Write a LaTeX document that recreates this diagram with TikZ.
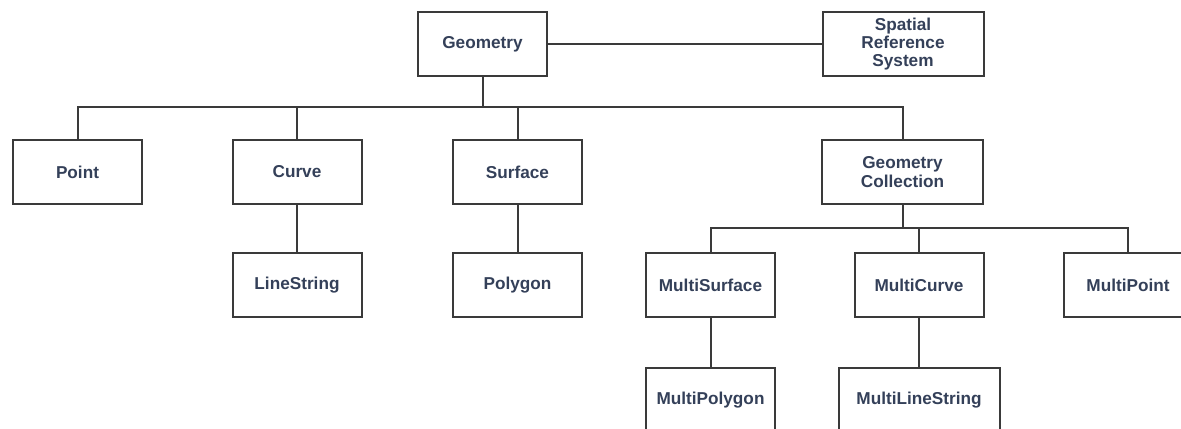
\documentclass[tikz,border=0pt]{standalone}
\usepackage{fontspec}
\setmainfont{Liberation Sans}
\usepackage{tikz}
\definecolor{boxtext}{HTML}{344059}
\definecolor{boxline}{HTML}{3A3A3A}
\tikzset{
  cls/.style={draw=boxline, line width=1pt, minimum width=64.5pt, minimum height=32pt,
    inner sep=0pt, outer sep=0pt, align=center, text=boxtext,
    font=\fontsize{8.6}{9.2}\selectfont\bfseries},
  wide/.style={cls, minimum width=80.5pt},
  link/.style={draw=boxline, line width=1pt}
}
\begin{document}
\begin{tikzpicture}[x=0.5pt,y=-0.5pt]
\clip (0,0) rectangle (1181,428);
\fill[white] (0,0) rectangle (1181,428);
\node[cls]  (geom)     at (482.5,44) {Geometry};
\node[wide] (srs)      at (903,44)   {Spatial\\Reference\\System};
\node[cls]  (point)    at (77.5,172) {Point};
\node[cls]  (curve)    at (297,172)  {Curve};
\node[cls]  (surface)  at (517.5,172) {Surface};
\node[wide] (geocoll)  at (902.5,172) {Geometry\\Collection};
\node[cls]  (linestr)  at (297,285)  {LineString};
\node[cls]  (polygon)  at (517.5,285) {Polygon};
\node[cls]  (msurf)    at (710.5,285) {MultiSurface};
\node[cls]  (mcurve)   at (919,285)  {MultiCurve};
\node[cls]  (mpoint)   at (1128,285) {MultiPoint};
\node[cls]  (mpoly)    at (710.5,400) {MultiPolygon};
\node[wide] (mlinestr) at (919,400)  {MultiLineString};
\coordinate (bus) at (0,107);
\coordinate (subbus) at (0,228);
% top level
\draw[link] (geom) -- (srs);
\draw[link] (geom.south) -- (geom.south |- bus);
\draw[link] (point.north) |- (geocoll.north |- bus) -- (geocoll.north);
\foreach \n in {curve,surface}
  \draw[link] (\n.north) -- (\n.north |- bus);
% collections
\draw[link] (geocoll.south) -- (geocoll.south |- subbus);
\draw[link] (msurf.north) |- (mpoint.north |- subbus) -- (mpoint.north);
\draw[link] (mcurve.north) -- (mcurve.north |- subbus);
% single children
\draw[link] (curve) -- (linestr);
\draw[link] (surface) -- (polygon);
\draw[link] (msurf) -- (mpoly);
\draw[link] (mcurve) -- (mlinestr);
\end{tikzpicture}
\end{document}
